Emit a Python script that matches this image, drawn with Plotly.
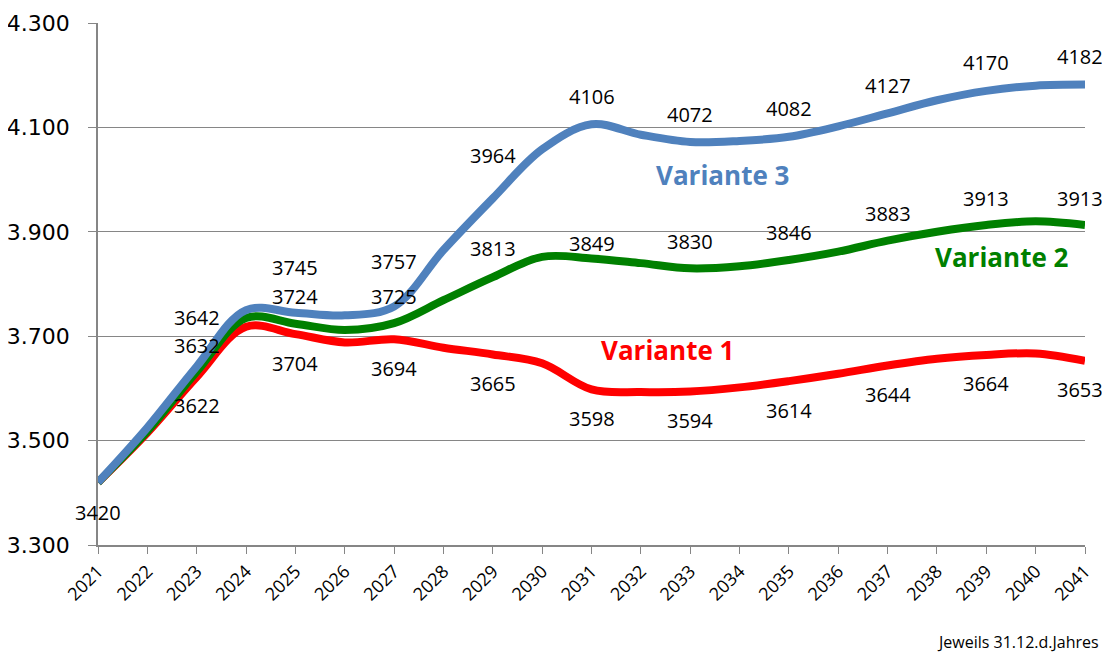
import plotly.graph_objects as go

years = list(range(2021, 2042))
variante1 = [3420, 3515, 3622, 3718, 3704, 3688, 3694, 3678, 3665, 3648, 3598,
             3593, 3594, 3602, 3614, 3628, 3644, 3657, 3664, 3667, 3653]
variante2 = [3420, 3518, 3632, 3735, 3724, 3712, 3725, 3769, 3813, 3852, 3849,
             3840, 3830, 3834, 3846, 3862, 3883, 3900, 3913, 3920, 3913]
variante3 = [3420, 3525, 3642, 3750, 3745, 3740, 3757, 3865, 3964, 4058, 4106,
             4086, 4072, 4074, 4082, 4102, 4127, 4152, 4170, 4180, 4182]
label_years = [2023, 2025, 2027, 2029, 2031, 2033, 2035, 2037, 2039, 2041]
y_ticks = [3300, 3500, 3700, 3900, 4100, 4300]
series_names = ["Variante 1", "Variante 2", "Variante 3"]

colors = ["#FF0000", "#008000", "#4F81BD"]
series = [variante1, variante2, variante3]

fig = go.Figure()
for name, vals, col in zip(series_names, series, colors):
    fig.add_trace(go.Scatter(
        x=years, y=vals, mode="lines", name=name,
        line=dict(color=col, width=8, shape="spline", smoothing=1.0),
        hoverinfo="skip"))

# label offsets (pixels, positive = up)
shift_v3 = {2023: 49, 2025: 45, 2027: 45, 2029: 43}
shift_v2 = {2023: 26, 2025: 27, 2027: 27, 2029: 29, 2031: 15}
label_font = dict(family="Open Sans", size=20, color="#000000")

annotations = []
for yr in label_years:
    i = years.index(yr)
    xs = -5 if yr == years[-1] else 0
    annotations.append(dict(x=yr, y=variante3[i], text=str(variante3[i]), showarrow=False,
                            yshift=shift_v3.get(yr, 28), xshift=xs, font=label_font))
    annotations.append(dict(x=yr, y=variante2[i], text=str(variante2[i]), showarrow=False,
                            yshift=shift_v2.get(yr, 27), xshift=xs, font=label_font))
    annotations.append(dict(x=yr, y=variante1[i], text=str(variante1[i]), showarrow=False,
                            yshift=-29, xshift=xs, font=label_font))
annotations.append(dict(x=years[0], y=variante1[0], text=str(variante1[0]), showarrow=False,
                        yshift=-30, font=label_font))

name_font = dict(family="Open Sans", size=26)
annotations += [
    dict(xref="paper", yref="paper", x=0.633, y=0.709, text="<b>Variante 3</b>",
         xanchor="center", yanchor="middle",
         showarrow=False, font=dict(name_font, color=colors[2])),
    dict(xref="paper", yref="paper", x=0.916, y=0.552, text="<b>Variante 2</b>",
         xanchor="center", yanchor="middle",
         showarrow=False, font=dict(name_font, color=colors[1])),
    dict(xref="paper", yref="paper", x=0.5765, y=0.374, text="<b>Variante 1</b>",
         xanchor="center", yanchor="middle",
         showarrow=False, font=dict(name_font, color=colors[0])),
    dict(xref="paper", yref="paper", x=1.016, y=-0.186, xanchor="right", yanchor="middle",
         text="Jeweils 31.12.d.Jahres", showarrow=False,
         font=dict(family="Open Sans", size=16, color="#000000")),
]

fig.update_layout(
    width=1110, height=652,
    margin=dict(l=90, r=33, t=15, b=115, autoexpand=False),
    paper_bgcolor="white", plot_bgcolor="white",
    separators=",.",
    showlegend=False,
    annotations=annotations,
    xaxis=dict(range=[2021, 2041], tickmode="array", tickvals=years,
               ticktext=[str(y) for y in years], tickangle=-45, automargin=False,
               ticks="outside", ticklen=7, tickcolor="#868686",
               showline=True, linecolor="#868686", linewidth=1.5,
               showgrid=False, zeroline=False,
               tickfont=dict(family="Open Sans", size=18, color="#000000")),
    yaxis=dict(range=[3300, 4300], tickmode="array", tickvals=y_ticks, automargin=False,
               tickformat=",.0f", ticks="outside", ticklen=8, tickcolor="#868686",
               showline=True, linecolor="#868686", linewidth=1.5,
               showgrid=True, gridcolor="#868686", gridwidth=1.2, zeroline=False,
               ticklabelstandoff=14,
               tickfont=dict(family="DejaVu Sans", size=22, color="#000000")),
)

fig.write_html("out.html")
